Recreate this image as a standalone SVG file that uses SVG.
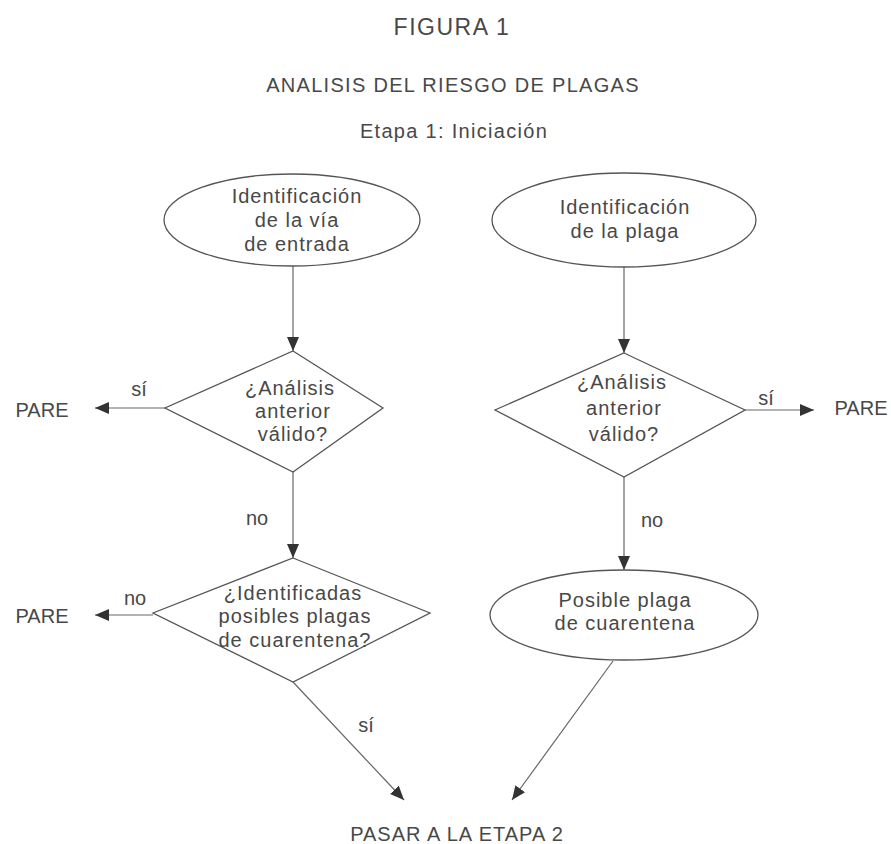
<svg xmlns="http://www.w3.org/2000/svg" width="891" height="844" viewBox="0 0 891 844">
<style>
text{font-family:"Liberation Sans",Arial,sans-serif;fill:#484848;text-anchor:middle}
.t{font-size:20px;letter-spacing:1.3px}
.n{font-size:20px;letter-spacing:1px}
.l{font-size:20px}
.s{fill:none;stroke:#555;stroke-width:1.3}
.c{fill:none;stroke:#666;stroke-width:1.2}
</style>
<defs>
<marker id="ah" viewBox="0 0 14 12" refX="14" refY="6" markerWidth="14" markerHeight="12" markerUnits="userSpaceOnUse" orient="auto">
<path d="M0,0 L14,6 L0,12 Z" fill="#333"/>
</marker>
</defs>
<rect width="891" height="844" fill="#fff"/>
<text x="452" y="35" style="font-size:23px;letter-spacing:1.5px">FIGURA 1</text>
<text x="453" y="92" class="t">ANALISIS DEL RIESGO DE PLAGAS</text>
<text x="454" y="138" class="t">Etapa 1: Iniciación</text>

<g id="connectors">
<line class="c" x1="293" y1="266" x2="293" y2="351" marker-end="url(#ah)"/>
<line class="c" x1="165" y1="408" x2="95" y2="408" marker-end="url(#ah)"/>
<line class="c" x1="293" y1="472" x2="293" y2="558" marker-end="url(#ah)"/>
<line class="c" x1="153" y1="615" x2="95" y2="615" marker-end="url(#ah)"/>
<line class="c" x1="293" y1="682" x2="404" y2="800" marker-end="url(#ah)"/>
<line class="c" x1="624" y1="267" x2="624" y2="353" marker-end="url(#ah)"/>
<line class="c" x1="745" y1="410" x2="814" y2="410" marker-end="url(#ah)"/>
<line class="c" x1="624" y1="477" x2="624" y2="570" marker-end="url(#ah)"/>
<line class="c" x1="613" y1="661" x2="512" y2="800" marker-end="url(#ah)"/>
<text x="139" y="396" class="l">sí</text>
<text x="257" y="525" class="l">no</text>
<text x="135" y="605" class="l">no</text>
<text x="366" y="732" class="l">sí</text>
<text x="766" y="405" class="l">sí</text>
<text x="652" y="527" class="l">no</text>
</g>

<g id="n1">
<ellipse class="s" cx="292" cy="220" rx="128" ry="46"/>
<text x="297" y="203" class="n">Identificación</text>
<text x="297" y="227" class="n">de la vía</text>
<text x="297" y="251" class="n">de entrada</text>
</g>
<g id="n2">
<ellipse class="s" cx="624" cy="220" rx="132" ry="47"/>
<text x="625" y="214" class="n">Identificación</text>
<text x="625" y="238" class="n">de la plaga</text>
</g>
<g id="d1">
<polygon class="s" points="293,351 383,408 293,472 165,408"/>
<text x="290" y="395" class="n">¿Análisis</text>
<text x="293" y="418" class="n">anterior</text>
<text x="293" y="441" class="n">válido?</text>
</g>
<g id="d2">
<polygon class="s" points="624,353 745,410 624,477 495,410"/>
<text x="622" y="389" class="n">¿Análisis</text>
<text x="624" y="415" class="n">anterior</text>
<text x="624" y="441" class="n">válido?</text>
</g>
<g id="d3">
<polygon class="s" points="293,558 430,613 293,682 153,613"/>
<text x="293" y="600" class="n">¿Identificadas</text>
<text x="295" y="623" class="n">posibles plagas</text>
<text x="295" y="647" class="n">de cuarentena?</text>
</g>
<g id="n3">
<ellipse class="s" cx="624" cy="615" rx="134" ry="45"/>
<text x="625" y="607" class="n">Posible plaga</text>
<text x="625" y="630" class="n">de cuarentena</text>
</g>
<g id="p1"><text x="42" y="417" class="l">PARE</text></g>
<g id="p2"><text x="42" y="623" class="l">PARE</text></g>
<g id="p3"><text x="861" y="415" class="l">PARE</text></g>
<g id="end"><text x="457" y="841" class="n">PASAR A LA ETAPA 2</text></g>
</svg>
